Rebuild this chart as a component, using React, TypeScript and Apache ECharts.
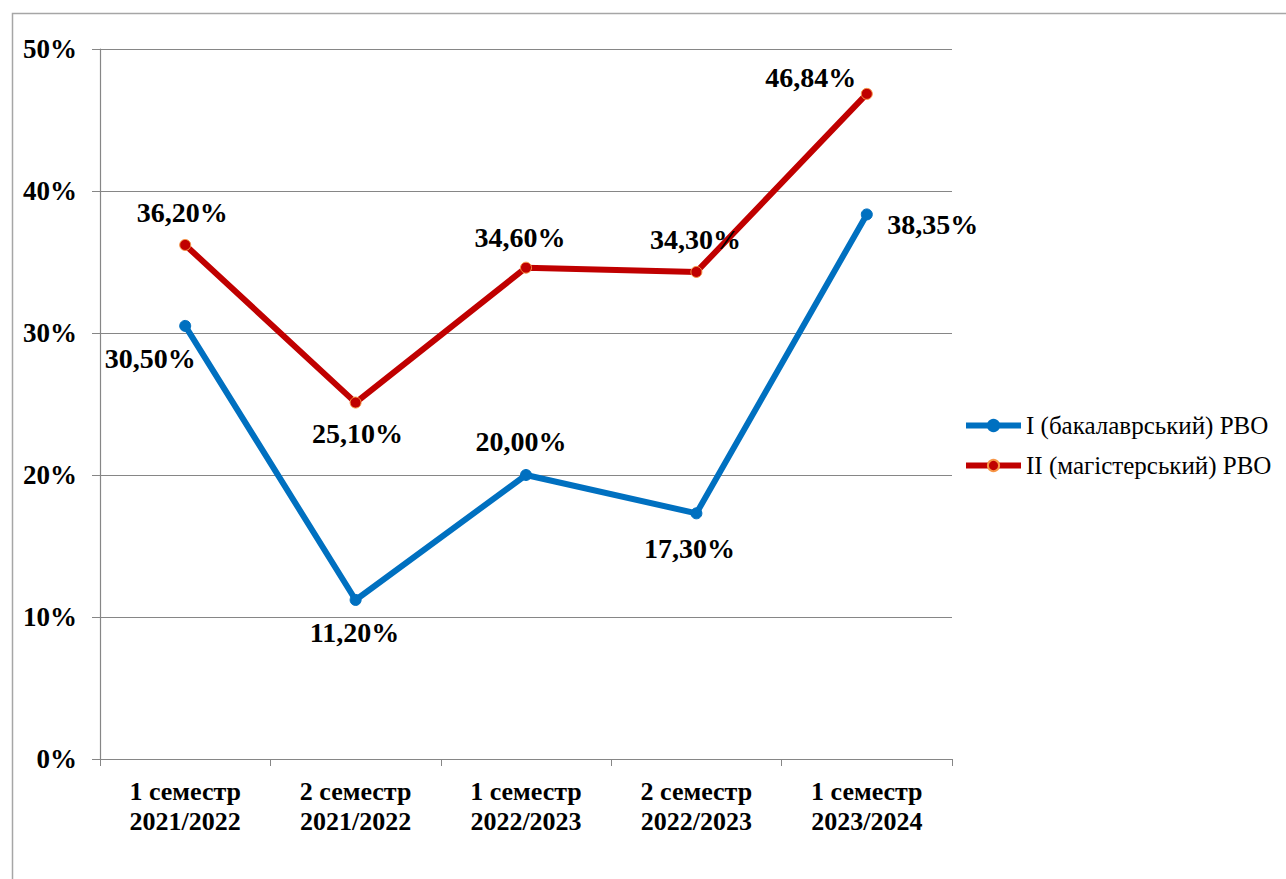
import React, { useEffect, useRef } from "react";
import * as echarts from "echarts";

const categories = [
  "1 семестр\n2021/2022",
  "2 семестр\n2021/2022",
  "1 семестр\n2022/2023",
  "2 семестр\n2022/2023",
  "1 семестр\n2023/2024",
];
const bachelorName = "I (бакалаврський) РВО";
const masterName = "II (магістерський) РВО";
const bachelorValues = [30.5, 11.2, 20.0, 17.3, 38.35];
const masterValues = [36.2, 25.1, 34.6, 34.3, 46.84];
const yTicks = [0, 10, 20, 30, 40, 50];

const bachelorOffsets: [number, number][] = [[-35, 33], [-1, 33], [-5, -34], [-7, 35], [66, 10]];
const masterOffsets: [number, number][] = [[-3, -32], [2, 31], [-6, -30], [-1, -32], [-56, -16]];

const FONT = "Liberation Serif";
const fmt = (v: number) => v.toFixed(2).replace(".", ",") + "%";

export default function App() {
  const ref = useRef<HTMLDivElement>(null);
  useEffect(() => {
    if (!ref.current) return;
    const chart = echarts.init(ref.current, null, { renderer: "svg" });
    const labelStyle = {
      show: true,
      position: "inside",
      fontFamily: FONT,
      fontWeight: "bold",
      fontSize: 28,
      color: "#000",
      formatter: (p: any) => fmt(p.value),
    };
    const mk = (vals: number[], offs: [number, number][]) =>
      vals.map((v, i) => ({ value: v, label: { offset: offs[i] } }));
    chart.setOption({
      animation: false,
      textStyle: { fontFamily: FONT },
      graphic: [
        {
          type: "rect",
          left: 10,
          top: 11,
          shape: { width: 1400, height: 1000 },
          style: { fill: "none", stroke: "#a6a6a6", lineWidth: 1.5 },
          silent: true,
        },
      ],
      grid: { left: 100, right: 334, top: 49, bottom: 120, containLabel: false },
      legend: {
        orient: "vertical",
        left: 958,
        top: 408,
        itemWidth: 55,
        itemHeight: 14,
        itemGap: 15,
        lineStyle: { width: 6 },
        textStyle: { fontFamily: FONT, fontSize: 25, color: "#000" },
        data: [bachelorName, masterName],
      },
      xAxis: {
        type: "category",
        data: categories,
        boundaryGap: true,
        axisLine: { lineStyle: { color: "#868686", width: 1.2 } },
        axisTick: { show: true, length: 7, alignWithLabel: false, lineStyle: { color: "#868686" } },
        axisLabel: {
          margin: 17,
          fontFamily: FONT,
          fontWeight: "bold",
          fontSize: 26,
          lineHeight: 30,
          color: "#000",
          interval: 0,
        },
      },
      yAxis: {
        type: "value",
        min: yTicks[0],
        max: yTicks[yTicks.length - 1],
        interval: 10,
        axisLine: { show: true, lineStyle: { color: "#868686", width: 1.2 } },
        axisTick: { show: true, length: 8, lineStyle: { color: "#868686" } },
        splitLine: { lineStyle: { color: "#868686", width: 1.2 } },
        axisLabel: {
          margin: 23,
          fontFamily: FONT,
          fontWeight: "bold",
          fontSize: 27,
          color: "#000",
          formatter: "{value}%",
        },
      },
      series: [
        {
          name: bachelorName,
          type: "line",
          data: mk(bachelorValues, bachelorOffsets),
          symbol: "circle",
          symbolSize: 11,
          lineStyle: { color: "#0070C0", width: 6 },
          itemStyle: { color: "#0070C0", borderColor: "#0070C0", borderWidth: 1 },
          label: labelStyle,
          z: 2,
        },
        {
          name: masterName,
          type: "line",
          data: mk(masterValues, masterOffsets),
          symbol: "circle",
          symbolSize: 11,
          lineStyle: { color: "#C00000", width: 6 },
          itemStyle: { color: "#C00000", borderColor: "#F79646", borderWidth: 1 },
          label: labelStyle,
          z: 3,
        },
      ],
    });
    return () => chart.dispose();
  }, []);
  return (
    <div
      ref={ref}
      style={{ position: "fixed", left: 0, top: 0, width: 1286, height: 879, background: "#fff" }}
    />
  );
}
